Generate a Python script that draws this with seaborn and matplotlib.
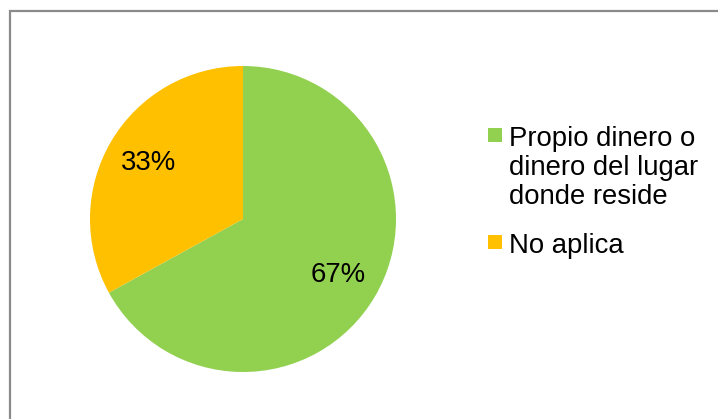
import matplotlib
matplotlib.use("Agg")
import matplotlib.pyplot as plt
from matplotlib.patches import Rectangle
import seaborn as sns

# data
labels = ["Propio dinero o\ndinero del lugar\ndonde reside", "No aplica"]
values = [67, 33]
colors = ["#92D050", "#FFC000"]

sns.set_theme(style="white")
plt.rcParams["font.family"] = ["Liberation Sans", "DejaVu Sans"]

W, H = 718, 419
fig = plt.figure(figsize=(W / 100, H / 100), dpi=100)
fig.patch.set_facecolor("white")

# pie: center (243, 219), radius 153 px
cx, cy, r = 243, 219, 153
ax = fig.add_axes([(cx - r) / W, (H - cy - r) / H, 2 * r / W, 2 * r / H])
wedges, texts, autotexts = ax.pie(values, colors=colors, startangle=90, counterclock=False,
                                  autopct="%1.0f%%", pctdistance=0.72,
                                  wedgeprops={"linewidth": 0, "edgecolor": "none"},
                                  textprops={"fontsize": 19.8, "color": "black"})
ax.set_xlim(-1, 1)
ax.set_ylim(-1, 1)
ax.set_aspect("equal")
ax.axis("off")

# outer chart border (right/bottom edges fall outside image)
fig.add_artist(Rectangle((9.5 / W, -0.1), 1.2, (H - 11.5) / H + 0.1,
                         transform=fig.transFigure, fill=False,
                         edgecolor="#8a8a8a", linewidth=1.6))

# legend drawn by hand so the swatch aligns with the first text line
sw = 14
legend_rows = [(labels[0], colors[0], 128), (labels[1], colors[1], 235)]
for text, col, top in legend_rows:
    fig.add_artist(Rectangle((488 / W, (H - top - sw) / H), sw / W, sw / H,
                             transform=fig.transFigure, facecolor=col, edgecolor="none"))
    fig.text(509 / W, (H - top + 2) / H, text, fontsize=19.8, color="black",
             ha="left", va="top", linespacing=1.14)

fig.savefig("out.png", dpi=100)
